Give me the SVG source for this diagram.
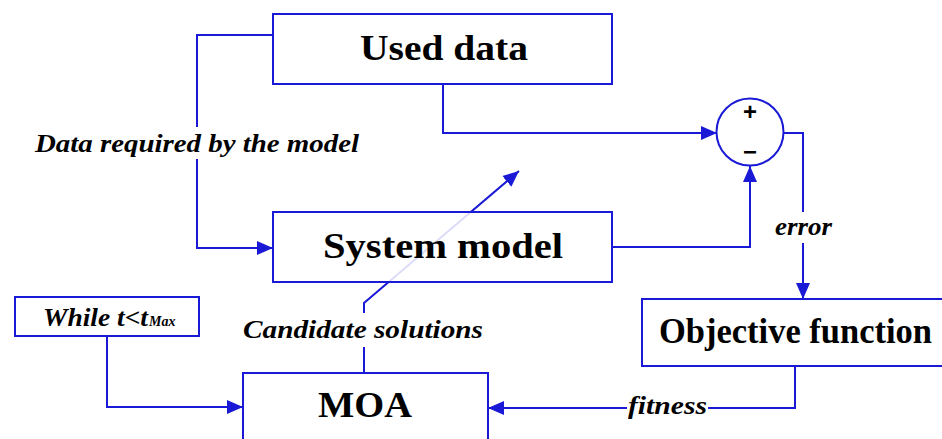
<svg xmlns="http://www.w3.org/2000/svg" width="942" height="439" viewBox="0 0 942 439">
<defs>
<marker id="ah" markerUnits="userSpaceOnUse" markerWidth="16" markerHeight="14" viewBox="0 0 16 14" refX="16" refY="7" orient="auto">
<path d="M0,0 L16,7 L0,14 z" fill="#1a1ad6"/>
</marker>
<style>
.c{fill:none;stroke:#1a1ad6;stroke-width:2}
.b{fill:#fff;fill-opacity:0.85;stroke:#1a1ad6;stroke-width:2}
.t{font-family:"Liberation Serif",serif;font-weight:bold;font-size:35px;fill:#000;text-anchor:start}
.i{font-family:"Liberation Serif",serif;font-weight:bold;font-style:italic;font-size:25px;fill:#000}
.s{font-family:"Liberation Sans",sans-serif;font-weight:bold;font-size:24px;fill:#000;text-anchor:middle}
</style>
</defs>
<rect width="942" height="439" fill="#fff"/>
<g id="connectors">
<path class="c" d="M273,35 H197 V127"/>
<path class="c" d="M197,159 V248 H273" marker-end="url(#ah)"/>
<path class="c" d="M443,84 V133 H717" marker-end="url(#ah)"/>
<path class="c" d="M612,247 H750 V166" marker-end="url(#ah)"/>
<path class="c" d="M784,133 H803 V212"/>
<path class="c" d="M803,243 V299" marker-end="url(#ah)"/>
<path class="c" d="M107,336 V407 H243" marker-end="url(#ah)"/>
<path class="c" d="M795,366 V408 H708"/>
<path class="c" d="M627,408 H488" marker-end="url(#ah)"/>
<path class="c" d="M364,373 V347"/>
<path class="c" d="M364,313 V303 L519,171" marker-end="url(#ah)"/>
<text class="i" x="35" y="152" textLength="324" lengthAdjust="spacingAndGlyphs">Data required by the model</text>
<text class="i" x="775" y="235" textLength="57" lengthAdjust="spacingAndGlyphs">error</text>
<text class="i" x="243" y="338" textLength="240" lengthAdjust="spacingAndGlyphs">Candidate solutions</text>
<text class="i" x="628" y="414" textLength="79" lengthAdjust="spacingAndGlyphs">fitness</text>
</g>
<g id="used-data">
<rect class="b" x="273" y="14" width="339" height="70"/>
<text class="t" x="360" y="60" textLength="168" lengthAdjust="spacingAndGlyphs">Used data</text>
</g>
<g id="sum">
<circle cx="750" cy="132" r="33.5" fill="#fff" stroke="#1a1ad6" stroke-width="2"/>
<text class="s" x="750" y="120">+</text>
<text class="s" x="750" y="160">−</text>
</g>
<g id="system-model">
<rect class="b" x="273" y="212" width="339" height="70"/>
<text class="t" x="323" y="258" textLength="240" lengthAdjust="spacingAndGlyphs">System model</text>
</g>
<g id="while">
<rect class="b" x="15" y="297" width="184" height="39"/>
<text class="i" x="43" y="326" font-size="24"><tspan textLength="105" lengthAdjust="spacingAndGlyphs">While t&lt;t</tspan><tspan font-size="14" dx="1">Max</tspan></text>
</g>
<g id="objective">
<rect class="b" x="642" y="299" width="310" height="67"/>
<text class="t" x="659" y="343" textLength="273" lengthAdjust="spacingAndGlyphs">Objective function</text>
</g>
<g id="moa">
<rect class="b" x="243" y="373" width="245" height="76"/>
<text class="t" x="318" y="417" textLength="94" lengthAdjust="spacingAndGlyphs">MOA</text>
</g>
</svg>
